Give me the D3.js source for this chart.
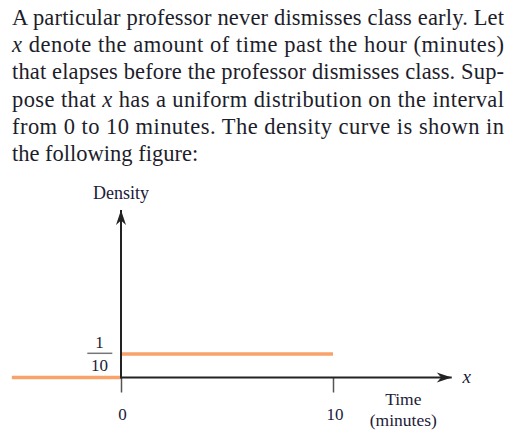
<!DOCTYPE html>
<html>
<head>
<meta charset="utf-8">
<script src="https://cdn.jsdelivr.net/npm/d3@7"></script>
<style>
  html, body { margin: 0; padding: 0; background: #fff; }
  svg { display: block; }
</style>
</head>
<body>
<svg id="chart" width="523" height="442"></svg>
<script>
// ---- Data ----
const paragraphLines = [
  [{t: "A particular professor never dismisses class early. Let"}],
  [{t: "x", i: true}, {t: " denote the amount of time past the hour (minutes)"}],
  [{t: "that elapses before the professor dismisses class. Sup-"}],
  [{t: "pose that "}, {t: "x", i: true}, {t: " has a uniform distribution on the interval"}],
  [{t: "from 0 to 10 minutes. The density curve is shown in"}],
  [{t: "the following figure:"}]
];
const densityStart = [-5.15, 0];   // x-range where density is 0 (left of interval)
const densityLevel = [0, 10];      // x-range where density is 1/10
const densityValues = [0, 0.1];    // density heights for the two segments
const xTickValues = [0, 10];
const xTickLabels = ["0", "10"];
const yFraction = ["1", "10"];     // numerator, denominator of 1/10
const yAxisLabel = "Density";
const xAxisLabel = ["Time", "(minutes)"];
const xVarLabel = "x";
const xAxisEnd = 15.6;
const yAxisTop = 0.713;

// ---- Setup ----
const svg = d3.select("#chart");
const textColor = "#1d1d2b";
const labelColor = "#1c2038";
const orange = "#f9a36b";
const axisColor = "#222";
const serif = "'Liberation Serif', 'Times New Roman', serif";

// Paragraph
const para = svg.append("g").attr("font-family", serif).attr("font-size", 22.5).attr("fill", textColor);
paragraphLines.forEach((line, k) => {
  const txt = para.append("text").attr("x", 12).attr("y", 25 + k * 27.2);
  line.forEach(seg => {
    txt.append("tspan").attr("font-style", seg.i ? "italic" : null).text(seg.t);
  });
  if (k < paragraphLines.length - 1) {
    txt.attr("textLength", 492).attr("lengthAdjust", "spacing");
  }
});

// Scales
const x = d3.scaleLinear().domain([0, 10]).range([121, 333]);
const y = d3.scaleLinear().domain([0, yAxisTop]).range([377.5, 210]);

// Arrow marker
const defs = svg.append("defs");
defs.append("marker")
  .attr("id", "arrow")
  .attr("viewBox", "-16 -6 17 12")
  .attr("refX", 0).attr("refY", 0)
  .attr("markerWidth", 17).attr("markerHeight", 12)
  .attr("markerUnits", "userSpaceOnUse")
  .attr("orient", "auto")
  .append("path")
  .attr("d", "M0,0 L-15,-5 L-10.5,0 L-15,5 Z")
  .attr("fill", axisColor);

// Density segments (drawn under axes)
const segs = [
  {x0: densityStart[0], x1: densityStart[1], v: densityValues[0]},
  {x0: densityLevel[0], x1: densityLevel[1], v: densityValues[1]}
];
svg.append("g").selectAll("line").data(segs).join("line")
  .attr("x1", d => x(d.x0)).attr("x2", d => x(d.x1))
  .attr("y1", d => y(d.v)).attr("y2", d => y(d.v))
  .attr("stroke", orange).attr("stroke-width", 3.6);

// X axis ticks & labels
const xAxis = d3.axisBottom(x)
  .tickValues(xTickValues)
  .tickFormat((d, i) => xTickLabels[i])
  .tickSize(15)
  .tickPadding(15.5);
const gx = svg.append("g").attr("transform", `translate(0,${y(0)})`).call(xAxis);
gx.select(".domain").remove();
gx.selectAll(".tick line").attr("stroke", "#555").attr("stroke-width", 1.5);
gx.selectAll(".tick text")
  .attr("font-family", serif).attr("font-size", 17).attr("fill", labelColor)
  .attr("dx", (d, i) => i === 0 ? 1 : 1.5);

// Axis lines with arrows
svg.append("line")
  .attr("x1", x(0)).attr("x2", x(xAxisEnd))
  .attr("y1", y(0)).attr("y2", y(0))
  .attr("stroke", axisColor).attr("stroke-width", 2)
  .attr("marker-end", "url(#arrow)");
svg.append("line")
  .attr("x1", x(0)).attr("x2", x(0))
  .attr("y1", y(0) + 1).attr("y2", y(yAxisTop))
  .attr("stroke", axisColor).attr("stroke-width", 2)
  .attr("marker-end", "url(#arrow)");

// Labels
svg.append("text")
  .attr("x", x(0)).attr("y", 199.3)
  .attr("text-anchor", "middle")
  .attr("font-family", serif).attr("font-size", 18).attr("fill", labelColor)
  .text(yAxisLabel);

svg.append("text")
  .attr("x", x(xAxisEnd) + 15).attr("y", y(0) + 5)
  .attr("text-anchor", "middle")
  .attr("font-family", serif).attr("font-style", "italic").attr("font-size", 19).attr("fill", labelColor)
  .text(xVarLabel);

svg.append("g").selectAll("text").data(xAxisLabel).join("text")
  .attr("x", 403.3).attr("y", (d, i) => 405 + i * 21)
  .attr("text-anchor", "middle")
  .attr("font-family", serif).attr("font-size", 17.5).attr("fill", labelColor)
  .text(d => d);

// Fraction 1/10 on y axis
const fy = y(densityValues[1]);
const frac = svg.append("g").attr("font-family", serif).attr("font-size", 17).attr("fill", labelColor);
frac.append("text").attr("x", 99.5).attr("y", fy - 6.3).attr("text-anchor", "middle").text(yFraction[0]);
frac.append("text").attr("x", 99.5).attr("y", fy + 17).attr("text-anchor", "middle").text(yFraction[1]);
frac.append("line")
  .attr("x1", 87.3).attr("x2", 112.3)
  .attr("y1", fy - 0.7).attr("y2", fy - 0.7)
  .attr("stroke", "#777").attr("stroke-width", 1.5);
</script>
</body>
</html>
